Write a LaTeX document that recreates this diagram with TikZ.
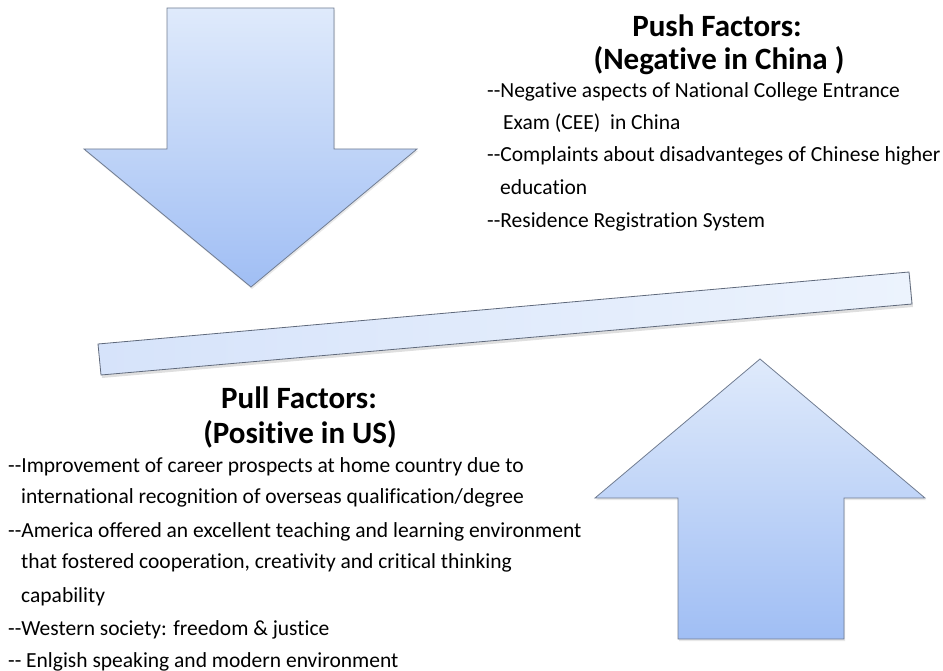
\documentclass[tikz,border=0pt]{standalone}
\usepackage{fontspec}
\setmainfont{Carlito}[Ligatures={TeXOff,NoCommon}]
\usetikzlibrary{positioning,shadows}
\definecolor{arrowtop}{RGB}{223,234,251}
\definecolor{arrowbot}{RGB}{160,190,244}
\definecolor{edgegrey}{RGB}{112,124,145}
\definecolor{barleft}{RGB}{214,227,250}
\definecolor{barright}{RGB}{236,243,253}

\begin{document}
\begin{tikzpicture}[x=1pt,y=-1pt,
    fat arrow/.style={top color=arrowtop,bottom color=arrowbot,draw=edgegrey,line width=.8pt,
        drop shadow={opacity=.18,shadow xshift=1pt,shadow yshift=-2pt}},
    beam/.style={left color=barleft,right color=barright,draw=edgegrey!85!black,line width=.8pt,
        drop shadow={opacity=.25,shadow xshift=1pt,shadow yshift=-3pt}},
    title/.style={font=\fontsize{31}{36}\selectfont\bfseries,anchor=base,inner sep=0pt},
    item/.style={font=\fontsize{21.5}{24}\selectfont,anchor=base west,inner sep=0pt}]
    \useasboundingbox (0,0) rectangle (943,671);

    % arrows and the beam
    \path[fat arrow] (167,8) -- (334,8) -- (334,149) -- (417,149) -- (251,287)
        -- (84,149) -- (167,149) -- cycle;
    \path[fat arrow] (760,359) -- (925,498) -- (844,498) -- (844,639) -- (678,639)
        -- (678,498) -- (595,498) -- cycle;
    \path[beam] (98,344) -- (909,272) -- (912,304) -- (101,375) -- cycle;

    % push factors
    \node[title] (push) at (717,37) {Push Factors:};
    \node[title] (neg) at (719,70) {(Negative in China )};
    \node[item] (push1) at (487,98) {--Negative aspects of National College Entrance};
    \node[item] (push2) at (503,130) {Exam (CEE)\ \ in China};
    \node[item] (push3) at (487,162) {--Complaints about disadvanteges of Chinese higher};
    \node[item] (push4) at (500,195) {education};
    \node[item] (push5) at (487,228) {--Residence Registration System};

    % pull factors
    \node[title] (pull) at (299,408) {Pull Factors:};
    \node[title] (pos) at (300,443) {(Positive in US)};
    \node[item] (pull1) at (8,472) {--Improvement of career prospects at home country due to};
    \node[item] (pull2) at (21,503) {international recognition of overseas qualification/degree};
    \node[item] (pull3) at (8,537) {--America offered an excellent teaching and learning environment};
    \node[item] (pull4) at (21,568) {that fostered cooperation, creativity and critical thinking};
    \node[item] (pull5) at (21,602) {capability};
    \node[item] (pull6) at (8,635) {--Western society: freedom \& justice};
    \node[item] (pull7) at (8,667) {-- Enlgish speaking and modern environment};
\end{tikzpicture}
\end{document}
